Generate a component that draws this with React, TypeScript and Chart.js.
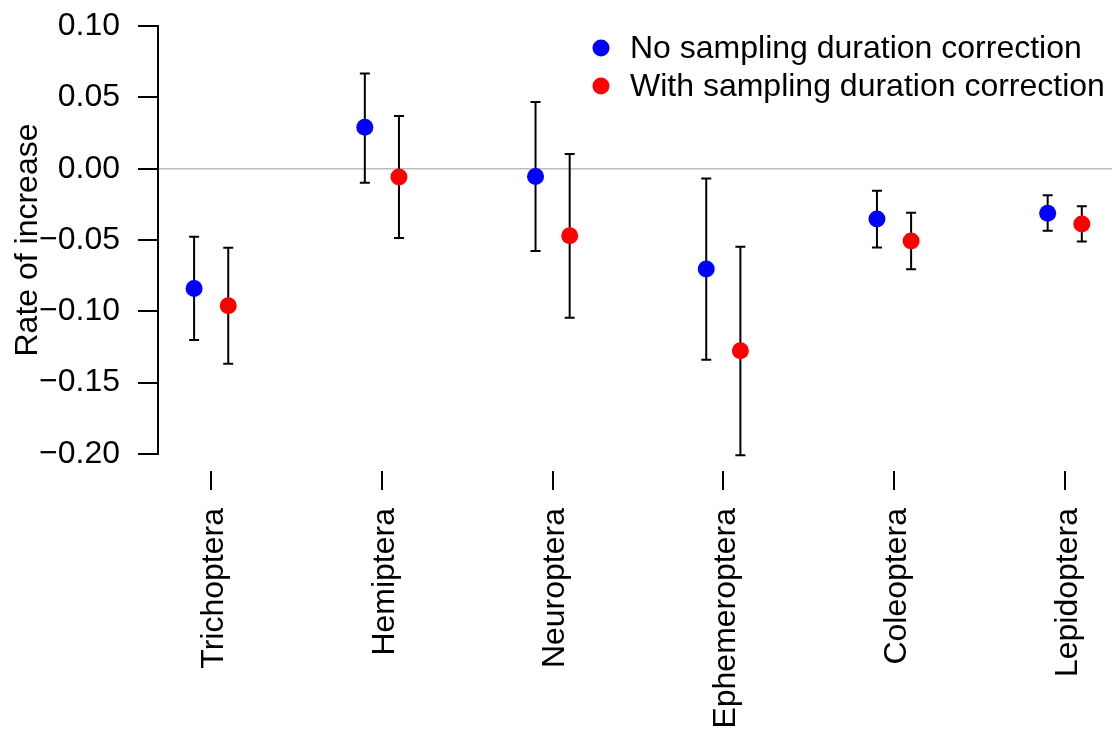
import React, { useEffect, useRef } from 'react';
import { Chart, registerables } from 'chart.js';

Chart.register(...registerables);

const categories = ['Trichoptera', 'Hemiptera', 'Neuroptera', 'Ephemeroptera', 'Coleoptera', 'Lepidoptera'];
const yTicks = [-0.2, -0.15, -0.1, -0.05, 0, 0.05, 0.1];

const noCorr = [-0.084, 0.029, -0.0055, -0.0704, -0.0353, -0.0313];
const noCorrLow = [-0.1201, -0.0098, -0.0577, -0.134, -0.0552, -0.0435];
const noCorrHigh = [-0.0477, 0.0668, 0.0468, -0.0068, -0.0154, -0.0187];

const withCorr = [-0.0961, -0.0058, -0.047, -0.1276, -0.0507, -0.0388];
const withCorrLow = [-0.1367, -0.0486, -0.1045, -0.201, -0.0706, -0.051];
const withCorrHigh = [-0.0554, 0.037, 0.0103, -0.0547, -0.0309, -0.0264];

const seriesLabels = ['No sampling duration correction', 'With sampling duration correction'];
const seriesColors = ['#0000FF', '#FF0000'];
const OFFSET = 0.1;

const FONT = '"Liberation Sans", Arial, Helvetica, sans-serif';
const FONT_SIZE = 32;

const zeroPadding = (scale: any) => {
  scale.paddingTop = 0;
  scale.paddingBottom = 0;
  scale.paddingLeft = 0;
  scale.paddingRight = 0;
};

export default function App() {
  const ref = useRef<HTMLCanvasElement>(null);

  useEffect(() => {
    if (!ref.current) return;

    const errorBars = {
      id: 'errorBars',
      beforeDatasetsDraw(chart: any) {
        const { ctx, chartArea, scales } = chart;
        const x = scales.x;
        const y = scales.y;
        ctx.save();
        // zero reference line (spans the whole plot region)
        const y0 = y.getPixelForValue(0);
        ctx.strokeStyle = '#BEBEBE';
        ctx.lineWidth = 1.5;
        ctx.beginPath();
        ctx.moveTo(chartArea.left, y0);
        ctx.lineTo(chart.width, y0);
        ctx.stroke();
        // y axis line (from first to last tick, as R does)
        ctx.strokeStyle = '#000';
        ctx.lineWidth = 2;
        ctx.beginPath();
        ctx.moveTo(chartArea.left, y.getPixelForValue(yTicks[0]) + 1);
        ctx.lineTo(chartArea.left, y.getPixelForValue(yTicks[yTicks.length - 1]) - 1);
        ctx.stroke();
        // error bars
        const groups = [
          { off: -OFFSET, lo: noCorrLow, hi: noCorrHigh },
          { off: OFFSET, lo: withCorrLow, hi: withCorrHigh },
        ];
        ctx.lineWidth = 2;
        ctx.strokeStyle = '#000';
        groups.forEach((g) => {
          g.lo.forEach((lo, i) => {
            const px = x.getPixelForValue(i + 1 + g.off);
            const pl = y.getPixelForValue(lo);
            const ph = y.getPixelForValue(g.hi[i]);
            ctx.beginPath();
            ctx.moveTo(px, pl);
            ctx.lineTo(px, ph);
            ctx.moveTo(px - 5, pl);
            ctx.lineTo(px + 5, pl);
            ctx.moveTo(px - 5, ph);
            ctx.lineTo(px + 5, ph);
            ctx.stroke();
          });
        });
        ctx.restore();
      },
      afterDraw(chart: any) {
        const { ctx } = chart;
        ctx.save();
        ctx.font = `${FONT_SIZE}px ${FONT}`;
        ctx.textBaseline = 'middle';
        ctx.textAlign = 'left';
        seriesLabels.forEach((label, i) => {
          const cy = 48 + i * 38;
          ctx.fillStyle = seriesColors[i];
          ctx.beginPath();
          ctx.arc(601, cy, 8.5, 0, Math.PI * 2);
          ctx.fill();
          ctx.fillStyle = '#000';
          ctx.fillText(label, 630, cy + 1);
        });
        ctx.restore();
      },
    };

    const chart = new Chart(ref.current, {
      type: 'scatter',
      data: {
        datasets: [
          {
            label: seriesLabels[0],
            data: noCorr.map((v, i) => ({ x: i + 1 - OFFSET, y: v })),
            backgroundColor: seriesColors[0],
            borderColor: seriesColors[0],
            pointRadius: 8.5,
            borderWidth: 0,
          },
          {
            label: seriesLabels[1],
            data: withCorr.map((v, i) => ({ x: i + 1 + OFFSET, y: v })),
            backgroundColor: seriesColors[1],
            borderColor: seriesColors[1],
            pointRadius: 8.5,
            borderWidth: 0,
          },
        ],
      },
      options: {
        responsive: false,
        animation: false,
        layout: { padding: { top: 9, left: 0, right: 0, bottom: 0 } },
        plugins: {
          legend: { display: false },
          tooltip: { enabled: false },
        },
        scales: {
          x: {
            type: 'linear',
            position: 'bottom',
            min: 0.6885,
            max: 6.227,
            afterBuildTicks: (scale: any) => {
              scale.ticks = categories.map((_, i) => ({ value: i + 1 }));
            },
            afterFit: (scale: any) => {
              scale.height = 258;
              zeroPadding(scale);
            },
            ticks: {
              autoSkip: false,
              minRotation: 90,
              maxRotation: 90,
              padding: 18,
              labelOffset: 3,
              color: '#000',
              font: { family: FONT, size: FONT_SIZE },
              callback: (value: any) => categories[Math.round(Number(value)) - 1] ?? '',
            },
            grid: {
              drawOnChartArea: false,
              drawTicks: true,
              tickLength: 19,
              color: '#000',
              lineWidth: 2,
            },
            border: { display: false },
          },
          y: {
            min: -0.212,
            max: 0.112,
            afterBuildTicks: (scale: any) => {
              scale.ticks = yTicks.map((v) => ({ value: v }));
            },
            afterFit: (scale: any) => {
              scale.width = 158;
              zeroPadding(scale);
            },
            ticks: {
              padding: 18,
              color: '#000',
              font: { family: FONT, size: FONT_SIZE },
              callback: (value: any) => Number(value).toFixed(2).replace('-', '\u2212'),
            },
            grid: {
              drawOnChartArea: false,
              drawTicks: true,
              tickLength: 20,
              color: '#000',
              lineWidth: 2,
            },
            border: { display: false },
            title: {
              display: true,
              text: 'Rate of increase',
              color: '#000',
              font: { family: FONT, size: FONT_SIZE },
              padding: { top: 9, bottom: 0 },
            },
          },
        },
      },
      plugins: [errorBars],
    });

    return () => chart.destroy();
  }, []);

  return (
    <div style={{ position: 'fixed', left: 0, top: 0, width: 1112, height: 729, background: '#fff' }}>
      <canvas ref={ref} width={1112} height={729} style={{ display: 'block' }} />
    </div>
  );
}
